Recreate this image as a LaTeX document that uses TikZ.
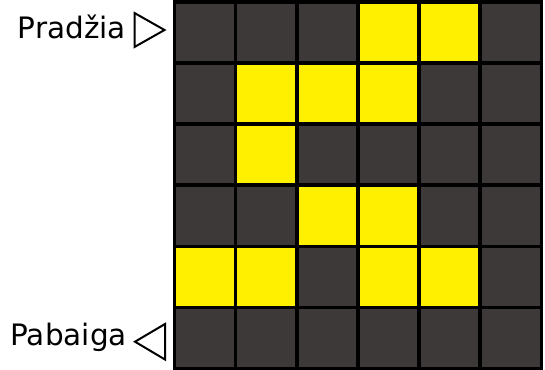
\documentclass[tikz,border=0pt]{standalone}
\usepackage{fontspec}
\setmainfont{DejaVu Sans}
\definecolor{cellgray}{HTML}{3D3939}
\definecolor{cellyellow}{HTML}{FFF000}
\tikzset{
  cell/.style={draw=black, line width=3.6pt, fill=cellgray},
  ycell/.style={draw=black, line width=3.6pt, fill=cellyellow},
  tri/.style={draw=black, line width=2pt, fill=white, line join=miter},
  lbl/.style={font=\fontsize{29.5}{31}\selectfont, inner sep=0pt}
}
\begin{document}
\begin{tikzpicture}[x=1pt,y=-1pt]
\useasboundingbox (0,0) rectangle (545,369);
% grid
\foreach \r/\c/\s in {
 0/0/cell,0/1/cell,0/2/cell,0/3/ycell,0/4/ycell,0/5/cell,
 1/0/cell,1/1/ycell,1/2/ycell,1/3/ycell,1/4/cell,1/5/cell,
 2/0/cell,2/1/ycell,2/2/cell,2/3/cell,2/4/cell,2/5/cell,
 3/0/cell,3/1/cell,3/2/ycell,3/3/ycell,3/4/cell,3/5/cell,
 4/0/ycell,4/1/ycell,4/2/cell,4/3/ycell,4/4/ycell,4/5/cell,
 5/0/cell,5/1/cell,5/2/cell,5/3/cell,5/4/cell,5/5/cell}
 \draw[\s] ({174.4+61.15*\c},{1.8+61.15*\r}) rectangle ++(61.15,61.15);
% labels
\node[lbl, anchor=base east] (start) at (126,38.5) {Pradžia};
\node[lbl, anchor=base east] (end) at (127,345) {Pabaiga};
\draw[tri] (134.5,13) -- (134.5,47) -- (164.5,30) -- cycle;
\draw[tri] (165,324) -- (165,359.5) -- (135,341.7) -- cycle;
\end{tikzpicture}
\end{document}
